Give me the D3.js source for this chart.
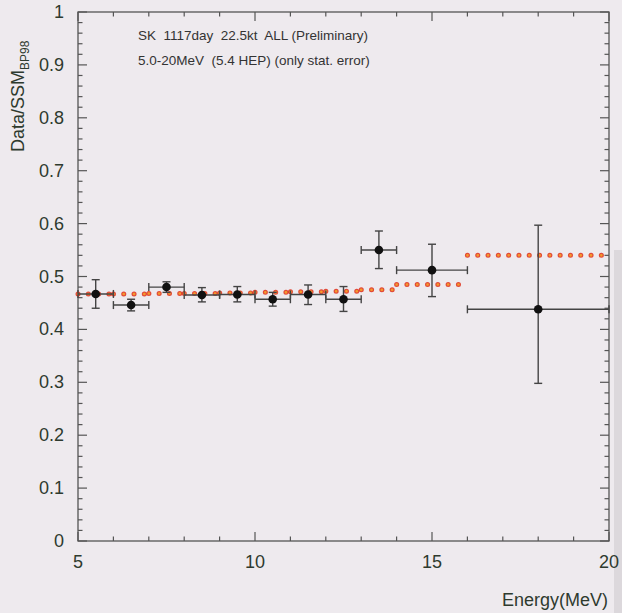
<!DOCTYPE html>
<html><head><meta charset="utf-8">
<script src="https://cdn.jsdelivr.net/npm/d3@7"></script>
<style>
html,body{margin:0;padding:0;background:#eeeaee;}
svg{display:block;font-family:"Liberation Sans",Arial,sans-serif;}
text{white-space:pre;}
</style></head>
<body>
<svg id="c" width="622" height="613"></svg>
<script>
// Data
const binLow  = [5, 6, 7, 8, 9, 10, 11, 12, 13, 14, 16];
const binHigh = [6, 7, 8, 9, 10, 11, 12, 13, 14, 16, 20];
const dataVal = [0.467, 0.446, 0.480, 0.465, 0.466, 0.457, 0.466, 0.457, 0.550, 0.512, 0.438];
const errUp   = [0.027, 0.011, 0.010, 0.014, 0.015, 0.013, 0.018, 0.024, 0.036, 0.049, 0.159];
const errDn   = [0.027, 0.011, 0.010, 0.013, 0.014, 0.013, 0.019, 0.023, 0.035, 0.050, 0.140];
const expectVal = [0.467, 0.467, 0.468, 0.468, 0.469, 0.470, 0.471, 0.472, 0.475, 0.485, 0.540];
const xTicks = [5, 10, 15, 20];
const yTicks = [0, 0.1, 0.2, 0.3, 0.4, 0.5, 0.6, 0.7, 0.8, 0.9, 1];
const yTickLabels = ["0","0.1","0.2","0.3","0.4","0.5","0.6","0.7","0.8","0.9","1"];
const annot = ["SK  1117day  22.5kt  ALL (Preliminary)", "5.0-20MeV  (5.4 HEP) (only stat. error)"];

const svg = d3.select("#c");
const L = 78, R = 609, T = 12, B = 541;
const x = d3.scaleLinear().domain([5, 20]).range([L, R]);
const y = d3.scaleLinear().domain([0, 1]).range([B, T]);

svg.append("rect").attr("width", 622).attr("height", 613).attr("fill", "#eeeaee");
// scan artefact strip at right edge
svg.append("rect").attr("x", 614).attr("y", 250).attr("width", 8).attr("height", 363).attr("fill", "#dcd8dc");

const axCol = "#555";
// frame
svg.append("rect").attr("x", L).attr("y", T).attr("width", R - L).attr("height", B - T)
  .attr("fill", "none").attr("stroke", axCol).attr("stroke-width", 1.3);

const g = svg.append("g");
const yMinor = d3.range(0, 1.0001, 0.02);
yMinor.forEach(v => {
  const major = Math.abs(Math.round(v * 10) - v * 10) < 1e-6;
  const len = major ? 9 : 4.5;
  g.append("line").attr("x1", L).attr("x2", L + len).attr("y1", y(v)).attr("y2", y(v)).attr("stroke", axCol).attr("stroke-width", 1.2);
  g.append("line").attr("x1", R).attr("x2", R - len).attr("y1", y(v)).attr("y2", y(v)).attr("stroke", axCol).attr("stroke-width", 1.2);
});
d3.range(5, 20.001, 1).forEach(v => {
  const major = v % 5 === 0;
  const len = major ? 9 : 4.5;
  g.append("line").attr("x1", x(v)).attr("x2", x(v)).attr("y1", B).attr("y2", B - len).attr("stroke", axCol).attr("stroke-width", 1.2);
  g.append("line").attr("x1", x(v)).attr("x2", x(v)).attr("y1", T).attr("y2", T + len).attr("stroke", axCol).attr("stroke-width", 1.2);
});

const txtCol = "#2e3a2e";
yTicks.forEach((v, i) => {
  svg.append("text").attr("x", 64).attr("y", y(v) + 6).attr("text-anchor", "end")
    .attr("font-size", 18).attr("fill", txtCol).text(yTickLabels[i]);
});
xTicks.forEach(v => {
  svg.append("text").attr("x", x(v)).attr("y", 568).attr("text-anchor", "middle")
    .attr("font-size", 18).attr("fill", txtCol).text(v);
});
svg.append("text").attr("x", 608).attr("y", 606).attr("text-anchor", "end")
  .attr("font-size", 18).attr("fill", txtCol).text("Energy(MeV)");
const yt = svg.append("text").attr("transform", "translate(24,152) rotate(-90)")
  .attr("font-size", 18).attr("fill", txtCol);
yt.append("tspan").text("Data/SSM");
yt.append("tspan").attr("font-size", 12).attr("dy", 5).text("BP98");

annot.forEach((t, i) => {
  svg.append("text").attr("x", 138).attr("y", 40 + i * 25).attr("font-size", 13.5)
    .attr("fill", "#333").attr("xml:space", "preserve").text(t);
});

// expectation (dotted step line)
const segs = binLow.map((lo, i) => ({lo, hi: binHigh[i], v: expectVal[i]}));
const eg = svg.append("g");
segs.forEach(s => {
  eg.append("line").attr("x1", x(s.lo)).attr("x2", x(s.hi)).attr("y1", y(s.v)).attr("y2", y(s.v))
    .attr("stroke", "#e0301a").attr("stroke-width", 5).attr("stroke-linecap", "round")
    .attr("stroke-dasharray", "0.1 10.2").attr("opacity", 0.85);
  eg.append("line").attr("x1", x(s.lo)).attr("x2", x(s.hi)).attr("y1", y(s.v)).attr("y2", y(s.v))
    .attr("stroke", "#f59a2a").attr("stroke-width", 2.6).attr("stroke-linecap", "round")
    .attr("stroke-dasharray", "0.1 10.2");
});

// data points with error bars
const pts = dataVal.map((v, i) => ({xc: (binLow[i] + binHigh[i]) / 2, lo: binLow[i], hi: binHigh[i], v, up: errUp[i], dn: errDn[i]}));
const eb = svg.append("g").attr("stroke", "#444").attr("stroke-width", 1.4);
const cap = 4;
pts.forEach(p => {
  eb.append("line").attr("x1", x(p.lo)).attr("x2", x(p.hi)).attr("y1", y(p.v)).attr("y2", y(p.v));
  eb.append("line").attr("x1", x(p.lo)).attr("x2", x(p.lo)).attr("y1", y(p.v) - cap).attr("y2", y(p.v) + cap);
  eb.append("line").attr("x1", x(p.hi)).attr("x2", x(p.hi)).attr("y1", y(p.v) - cap).attr("y2", y(p.v) + cap);
  eb.append("line").attr("x1", x(p.xc)).attr("x2", x(p.xc)).attr("y1", y(p.v + p.up)).attr("y2", y(p.v - p.dn));
  eb.append("line").attr("x1", x(p.xc) - cap).attr("x2", x(p.xc) + cap).attr("y1", y(p.v + p.up)).attr("y2", y(p.v + p.up));
  eb.append("line").attr("x1", x(p.xc) - cap).attr("x2", x(p.xc) + cap).attr("y1", y(p.v - p.dn)).attr("y2", y(p.v - p.dn));
});
svg.append("g").selectAll("circle").data(pts).join("circle")
  .attr("cx", d => x(d.xc)).attr("cy", d => y(d.v)).attr("r", 4.3).attr("fill", "#111");
</script>
</body></html>
